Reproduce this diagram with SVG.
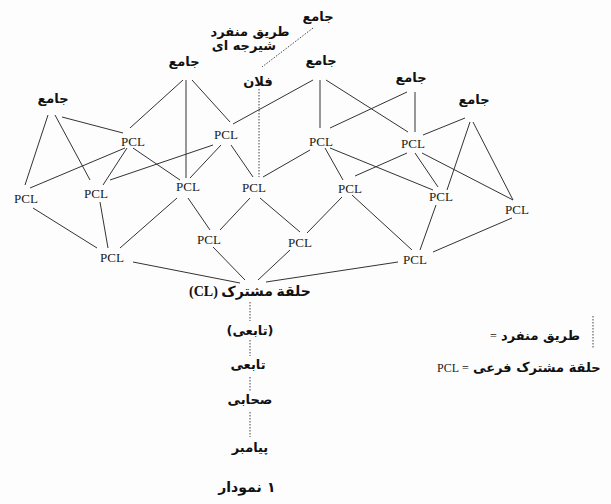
<svg xmlns="http://www.w3.org/2000/svg" width="611" height="504" viewBox="0 0 611 504">
<style>
.bg{fill:#fdfdfd}
.pcl{font-family:"Liberation Serif","Times New Roman",serif;font-size:13px;fill:#1a1a1a;text-anchor:middle}
.ar{font-family:"DejaVu Sans",sans-serif;font-size:13px;font-weight:bold;fill:#111;text-anchor:middle;direction:rtl;unicode-bidi:embed}
.arl{font-family:"DejaVu Sans",sans-serif;font-size:13px;font-weight:bold;fill:#111;text-anchor:start}
.mix{font-family:"Liberation Serif","DejaVu Sans",serif;font-size:14px;font-weight:bold;fill:#111;text-anchor:middle;direction:rtl;unicode-bidi:embed}
.lat{font-family:"Liberation Serif","Times New Roman",serif;font-size:12px;fill:#1a1a1a;text-anchor:start}
.e{stroke:#333;stroke-width:1;fill:none}
.d{stroke:#444;stroke-width:1;stroke-dasharray:1.5 1.5;fill:none}
</style>
<rect class="bg" x="0" y="0" width="611" height="504"/>
<g id="connectors">
<line class="e" x1="48" y1="115" x2="25" y2="185"/>
<line class="e" x1="55" y1="115" x2="90" y2="180"/>
<line class="e" x1="62" y1="117" x2="123" y2="133"/>
<line class="e" x1="183" y1="80" x2="130" y2="128"/>
<line class="e" x1="186" y1="80" x2="186" y2="178"/>
<line class="e" x1="192" y1="80" x2="230" y2="122"/>
<line class="e" x1="313" y1="80" x2="233" y2="124"/>
<line class="e" x1="320" y1="80" x2="320" y2="128"/>
<line class="e" x1="326" y1="80" x2="408" y2="132"/>
<line class="e" x1="407" y1="92" x2="330" y2="128"/>
<line class="e" x1="415" y1="92" x2="415" y2="132"/>
<line class="e" x1="465" y1="118" x2="423" y2="135"/>
<line class="e" x1="470" y1="122" x2="447" y2="190"/>
<line class="e" x1="473" y1="122" x2="513" y2="200"/>
<line class="e" x1="125" y1="148" x2="30" y2="188"/>
<line class="e" x1="127" y1="148" x2="103" y2="185"/>
<line class="e" x1="133" y1="148" x2="180" y2="180"/>
<line class="e" x1="213" y1="145" x2="110" y2="180"/>
<line class="e" x1="221" y1="145" x2="190" y2="178"/>
<line class="e" x1="231" y1="145" x2="253" y2="177"/>
<line class="e" x1="310" y1="150" x2="263" y2="177"/>
<line class="e" x1="325" y1="148" x2="343" y2="180"/>
<line class="e" x1="330" y1="148" x2="433" y2="190"/>
<line class="e" x1="407" y1="153" x2="355" y2="176"/>
<line class="e" x1="415" y1="153" x2="438" y2="187"/>
<line class="e" x1="422" y1="153" x2="513" y2="200"/>
<line class="e" x1="33" y1="208" x2="97" y2="248"/>
<line class="e" x1="100" y1="202" x2="108" y2="248"/>
<line class="e" x1="177" y1="198" x2="120" y2="248"/>
<line class="e" x1="188" y1="198" x2="210" y2="230"/>
<line class="e" x1="250" y1="198" x2="220" y2="230"/>
<line class="e" x1="260" y1="198" x2="300" y2="232"/>
<line class="e" x1="342" y1="197" x2="307" y2="233"/>
<line class="e" x1="352" y1="195" x2="412" y2="250"/>
<line class="e" x1="436" y1="205" x2="420" y2="250"/>
<line class="e" x1="512" y1="218" x2="433" y2="252"/>
<line class="e" x1="133" y1="262" x2="240" y2="283"/>
<line class="e" x1="213" y1="247" x2="245" y2="280"/>
<line class="e" x1="290" y1="250" x2="258" y2="280"/>
<line class="e" x1="398" y1="262" x2="266" y2="282"/>
<line class="d" x1="313" y1="28" x2="262" y2="67"/>
<line class="d" x1="259" y1="89" x2="259" y2="177"/>
<line class="d" x1="250" y1="302" x2="250" y2="321"/>
<line class="d" x1="250" y1="340" x2="250" y2="356"/>
<line class="d" x1="250" y1="377" x2="250" y2="391"/>
<line class="d" x1="250" y1="412" x2="250" y2="437"/>
</g>
<g id="jt"><text class="ar" x="318" y="21">جامع</text></g>
<g id="note"><text class="ar" x="250" y="36">طریق منفرد</text><text class="ar" x="244" y="50">شیرجه ای</text></g>
<g id="ja"><text class="ar" x="184" y="66">جامع</text></g>
<g id="jb"><text class="ar" x="321" y="65">جامع</text></g>
<g id="jc"><text class="ar" x="411" y="82">جامع</text></g>
<g id="jd"><text class="ar" x="474" y="104">جامع</text></g>
<g id="jl"><text class="ar" x="53" y="103">جامع</text></g>
<g id="falan"><text class="ar" x="258" y="86">فلان</text></g>
<g id="p1"><text class="pcl" x="133" y="146">PCL</text></g>
<g id="p2"><text class="pcl" x="226" y="139">PCL</text></g>
<g id="p3"><text class="pcl" x="321" y="146">PCL</text></g>
<g id="p4"><text class="pcl" x="413" y="148">PCL</text></g>
<g id="p5"><text class="pcl" x="26" y="203">PCL</text></g>
<g id="p6"><text class="pcl" x="96" y="198">PCL</text></g>
<g id="p7"><text class="pcl" x="188" y="191">PCL</text></g>
<g id="p8"><text class="pcl" x="254" y="192">PCL</text></g>
<g id="p9"><text class="pcl" x="350" y="193">PCL</text></g>
<g id="p10"><text class="pcl" x="441" y="201">PCL</text></g>
<g id="p11"><text class="pcl" x="517" y="214">PCL</text></g>
<g id="p12"><text class="pcl" x="209" y="244">PCL</text></g>
<g id="p13"><text class="pcl" x="300" y="247">PCL</text></g>
<g id="p14"><text class="pcl" x="112" y="262">PCL</text></g>
<g id="p15"><text class="pcl" x="415" y="264">PCL</text></g>
<g id="cl"><text class="mix" x="250" y="296">حلقة مشترک (CL)</text></g>
<g id="t1"><text class="ar" x="250" y="335">(تابعی)</text></g>
<g id="t2"><text class="ar" x="248" y="369">تابعی</text></g>
<g id="sahabi"><text class="ar" x="250" y="404">صحابی</text></g>
<g id="payambar"><text class="ar" x="250" y="452">پیامبر</text></g>
<g id="caption"><text class="ar" x="240" y="492" style="font-size:14px">نمودار</text><text class="arl" x="267" y="492" style="font-size:14px">۱</text></g>
<g id="legend">
<line class="d" x1="593" y1="316" x2="593" y2="348"/>
<text class="lat" x="490" y="340">=</text>
<text class="arl" x="501" y="340">طریق منفرد</text>
<text class="lat" x="437" y="372">PCL</text>
<text class="lat" x="462" y="372">=</text>
<text class="arl" x="473" y="372">حلقة مشترک فرعی</text>
</g>
</svg>
